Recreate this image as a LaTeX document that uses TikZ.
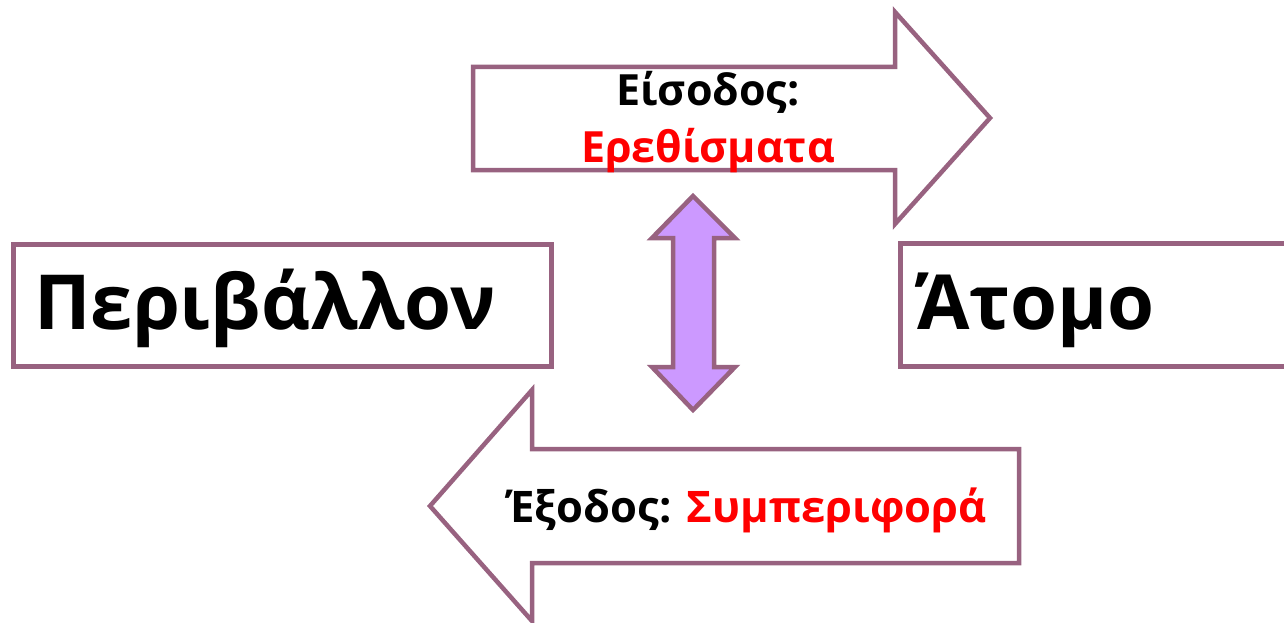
\documentclass[tikz,border=0pt]{standalone}
\usepackage{fontspec}
\setmainfont{Open Sans}
\usetikzlibrary{positioning}
\definecolor{framecol}{RGB}{152,98,128}
\definecolor{liliac}{RGB}{204,153,255}
\tikzset{
  frame/.style={draw=framecol,line width=4.5pt,line join=miter},
  word/.style={inner sep=0pt,font=\bfseries},
}

\begin{document}
\begin{tikzpicture}[x=1pt,y=-1pt]
\useasboundingbox (0,0) rectangle (1284,623);
% the two boxes
\node[frame,minimum width=538pt,minimum height=122pt,anchor=north west] (env) at (11,242) {};
\node[frame,minimum width=400pt,minimum height=123pt,anchor=north west] (indiv) at (898,241) {};
\node[word,font=\fontsize{76}{76}\bfseries,anchor=base west] (envtext) at (34,329) {Περιβάλλον};
\node[word,font=\fontsize{76}{76}\bfseries,anchor=base west] (indivtext) at (917,329) {Άτομο};
% the input arrow
\draw[frame] (473,67) -- (895,67) -- (895,12) -- (990,118) -- (895,224) -- (895,170) -- (473,170) -- cycle;
\node[word,font=\fontsize{43}{43}\bfseries,anchor=base] (in) at (708,106) {Είσοδος:};
\node[word,font=\fontsize{43}{43}\bfseries,text=red,anchor=base] (stim) at (708,162) {Ερεθίσματα};
% the output arrow
\draw[frame] (1019,449) -- (532,449) -- (532,390) -- (430,506) -- (532,621) -- (532,563) -- (1019,563) -- cycle;
\node[word,font=\fontsize{43.5}{43.5}\bfseries,anchor=base] (out) at (747,522) {Έξοδος: \textcolor{red}{Συμπεριφορά}};
% the double arrow between them
\draw[frame,fill=liliac] (693,196) -- (735,238) -- (714,238) -- (714,367) -- (735,367) -- (693,410)
  -- (652,367) -- (673,367) -- (673,238) -- (652,238) -- cycle;
\end{tikzpicture}
\end{document}
